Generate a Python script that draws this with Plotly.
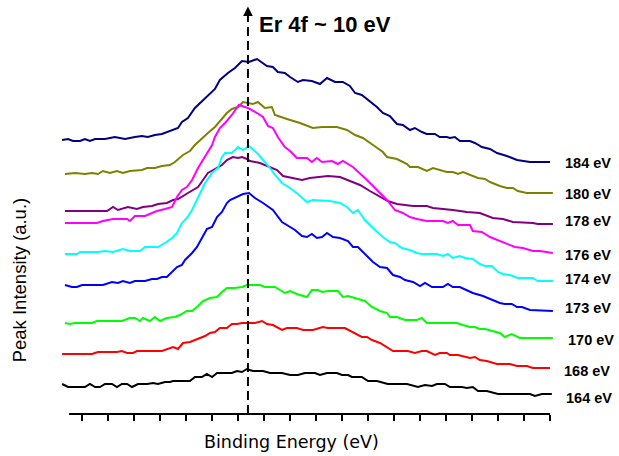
import plotly.graph_objects as go

# Binding energy (eV) and intensity (a.u.)
e_184 = [2.85,3.08,3.27,3.54,3.73,3.92,4.12,4.50,4.88,5.27,5.65,5.92,6.15,6.42,6.69,6.92,7.12,7.31,7.46,7.69,7.96,8.35,8.73,8.92,9.23,9.50,9.77,10.04,10.35,10.73,10.96,11.15,11.42,11.62,11.92,12.12,12.46,12.77,13.04,13.35,13.65,13.92,14.12,14.38,14.62,14.96,15.19,15.46,15.73,15.96,16.23,16.42,16.69,16.88,17.19,17.38,17.65,17.77,17.96,18.15,18.54,18.73,19.00,19.31,19.58,19.96,20.35,20.73,20.85,21.62]
i_184 = [27.4,27.5,27.3,27.3,27.5,27.3,27.5,27.5,27.7,27.5,27.7,27.8,27.7,27.9,28.0,28.2,28.4,28.6,29.2,29.6,30.6,31.6,32.5,33.4,34.1,34.6,35.3,35.2,35.5,34.8,34.7,34.2,34.1,33.7,33.2,33.4,33.3,33.0,33.6,33.2,33.2,32.8,32.1,31.9,31.4,30.7,30.1,29.8,29.0,28.9,28.4,28.6,28.2,28.0,28.0,27.7,27.7,27.6,27.7,27.3,27.3,27.1,26.7,26.5,26.1,25.8,25.4,25.3,25.2,25.2]

e_180 = [2.96,3.35,3.73,4.00,4.23,4.42,4.69,4.96,5.19,5.46,5.92,6.12,6.42,6.69,7.00,7.19,7.50,7.77,7.96,8.23,8.46,8.73,8.92,9.19,9.38,9.62,9.81,10.19,10.38,10.65,10.92,11.04,11.50,12.00,12.50,12.85,13.42,13.81,14.12,14.42,14.81,15.19,15.35,15.73,16.12,16.23,16.54,16.88,17.12,17.38,17.65,17.88,18.08,18.27,18.54,18.85,19.12,19.31,19.69,19.96,20.19,20.38,20.73,21.73]
i_180 = [24.0,24.1,24.0,24.1,24.0,24.3,24.1,24.3,24.1,24.3,24.4,24.6,24.6,24.8,24.9,25.2,25.9,26.3,26.9,27.6,28.1,28.7,29.3,30.1,30.5,30.7,31.2,31.0,31.2,30.6,30.7,29.9,29.5,29.1,28.6,28.7,28.7,28.4,27.9,27.6,26.9,26.2,25.7,25.5,25.0,24.7,24.7,24.3,24.6,24.4,24.2,24.2,24.0,24.2,23.9,23.6,23.5,23.2,22.8,22.6,22.6,22.3,22.1,22.1]

e_178 = [2.96,4.58,4.81,5.00,5.38,5.73,5.96,6.31,6.54,6.88,7.12,7.31,7.69,8.08,8.27,8.46,8.73,9.00,9.19,9.42,9.62,9.77,9.96,10.08,10.46,10.77,11.12,11.35,11.73,12.08,12.38,12.77,13.08,13.54,13.92,14.31,14.69,15.08,15.38,15.73,16.35,16.88,17.12,17.88,18.42,18.92,19.19,19.42,19.81,20.19,20.96,21.15,21.73]
i_178 = [20.3,20.3,20.7,20.4,20.7,20.5,20.7,20.8,21.0,21.1,21.4,21.5,22.1,22.7,23.4,24.1,24.5,24.9,25.4,25.7,25.6,25.7,25.5,25.3,25.1,24.8,24.4,23.8,23.6,23.4,23.6,23.7,23.8,23.7,23.3,22.9,22.3,21.7,21.3,21.0,20.8,20.8,20.6,20.4,20.2,20.1,19.8,19.6,19.5,19.2,19.1,19.0,19.0]

e_176 = [2.96,4.19,4.42,4.81,5.35,5.46,5.65,6.04,6.31,6.50,6.81,7.08,7.27,7.46,7.65,7.85,8.08,8.35,8.62,8.73,8.92,9.12,9.38,9.65,10.00,10.35,10.58,10.77,10.96,11.15,11.42,11.62,11.88,12.27,12.46,12.65,12.85,13.23,13.46,13.65,14.04,14.58,15.08,15.35,15.65,15.96,16.23,16.50,16.88,17.50,17.69,17.88,18.08,18.54,18.65,19.00,19.31,19.69,19.96,20.27,20.58,20.96,21.23,21.73]
i_176 = [19.1,19.1,19.3,19.5,19.5,19.3,19.8,19.8,20.1,20.3,20.5,20.7,21.7,22.4,22.7,23.4,24.6,25.7,26.9,27.7,28.6,29.1,29.9,30.9,30.6,30.1,29.7,28.8,28.6,27.7,26.7,26.3,25.6,25.6,25.2,25.6,25.2,25.3,25.0,25.3,24.7,23.4,22.1,21.4,20.4,20.1,19.7,19.5,19.3,19.3,19.1,19.3,18.9,18.9,18.3,18.2,17.7,17.3,17.0,16.7,16.6,16.3,16.3,16.1]

e_174 = [2.96,3.42,3.54,4.23,4.50,4.81,5.19,5.46,5.85,6.04,6.54,6.81,7.08,7.27,7.46,7.65,7.85,8.08,8.35,8.62,8.85,9.00,9.12,9.38,9.62,9.81,10.04,10.35,10.58,10.85,11.04,11.31,11.62,11.92,12.27,12.50,13.15,13.54,13.81,14.04,14.23,14.50,14.81,15.19,15.46,15.65,15.92,16.23,16.50,16.69,17.27,17.50,17.69,17.88,18.15,18.35,18.65,18.92,19.12,19.38,19.62,19.81,20.08,20.38,20.96,21.15,21.73]
i_174 = [16.0,16.0,16.2,16.2,16.3,16.2,16.5,16.3,16.3,16.7,16.7,17.1,17.6,18.1,19.1,19.6,20.4,21.6,23.1,24.1,24.6,25.7,26.1,26.1,26.7,26.4,26.8,26.1,25.4,24.6,23.9,23.1,22.6,22.0,21.2,21.4,21.3,21.1,20.7,20.1,20.4,19.4,18.6,17.7,17.2,17.1,16.6,16.4,16.1,16.0,16.0,15.8,16.0,15.6,15.8,15.6,15.5,15.0,14.8,14.8,14.2,14.0,13.9,13.6,13.6,13.3,13.3]

e_173 = [2.96,3.23,3.42,3.62,4.42,4.77,5.00,5.19,5.46,5.65,6.04,6.31,6.50,6.69,6.88,7.08,7.27,7.46,7.58,7.85,8.04,8.23,8.42,8.62,8.81,9.00,9.19,9.31,9.58,9.81,10.04,10.27,10.58,10.85,10.96,11.31,11.62,11.81,12.08,12.27,12.46,12.65,12.85,13.04,13.27,13.54,13.85,14.04,14.23,14.42,14.62,14.81,15.08,15.35,15.58,15.85,16.04,16.35,16.62,16.81,17.08,17.50,17.69,17.88,18.15,18.42,18.65,19.04,19.31,19.69,19.88,20.15,20.35,20.54,20.85,21.73]
i_173 = [12.9,12.7,12.7,12.9,12.9,13.2,13.1,13.3,13.1,13.3,13.3,13.5,13.5,13.7,13.7,14.2,14.7,14.9,15.4,16.1,16.7,17.6,18.5,18.7,19.7,20.2,21.1,21.4,21.7,22.0,22.1,21.6,21.1,20.6,20.4,19.2,18.7,18.4,17.8,17.7,18.0,17.6,17.7,18.1,17.7,17.6,17.3,16.7,16.7,16.2,15.7,15.2,14.7,14.6,13.9,13.7,13.4,13.2,12.8,13.1,12.7,12.7,13.0,12.7,12.7,12.4,12.1,11.8,11.5,11.1,11.0,11.0,10.7,10.7,10.4,10.3]

e_170 = [2.96,3.15,3.35,4.00,4.19,5.15,5.46,5.65,5.85,5.96,6.23,6.42,6.62,6.88,7.19,7.38,7.65,7.85,8.08,8.27,8.54,8.81,9.00,9.19,9.50,9.77,9.96,10.46,10.65,11.04,11.42,11.62,11.88,12.27,12.46,12.69,12.85,13.08,13.46,13.65,13.85,14.12,14.50,14.77,15.08,15.35,15.46,15.73,16.04,16.50,16.69,16.88,18.04,18.27,18.54,18.73,18.92,19.12,19.38,19.69,19.88,20.15,20.46,21.73]
i_170 = [9.1,9.0,9.1,9.1,9.3,9.3,9.6,9.6,9.3,9.6,9.3,9.7,9.3,9.6,9.7,9.9,10.3,10.3,10.8,11.3,11.6,11.7,12.2,12.6,12.6,12.7,12.9,12.9,12.7,12.7,12.1,12.3,12.0,11.7,12.4,12.4,12.2,12.3,12.3,11.7,11.8,11.6,11.3,10.7,10.3,10.1,9.7,9.7,9.4,9.4,9.6,9.1,9.1,8.9,8.7,8.7,8.5,8.5,8.3,8.1,7.7,8.0,7.6,7.6]

e_168 = [2.85,4.00,4.23,4.96,5.15,5.35,5.58,5.73,6.69,6.88,7.12,7.31,7.50,7.77,8.08,8.35,8.54,8.73,8.92,9.19,9.38,9.58,9.77,10.27,10.54,10.73,10.96,11.31,11.50,11.88,12.12,12.50,12.88,13.08,13.73,14.04,14.38,14.58,14.77,15.08,15.35,15.58,16.15,16.42,16.69,16.88,17.19,17.38,17.65,17.77,18.08,18.42,18.54,18.73,18.92,19.19,19.58,20.08,20.35,20.73,20.96,21.62]
i_168 = [6.0,6.0,6.2,6.2,6.3,6.1,6.1,6.3,6.3,6.5,6.7,6.5,7.1,7.2,7.5,7.8,8.1,8.2,8.6,8.6,9.0,9.0,9.1,9.1,9.3,9.0,8.9,8.4,8.6,8.6,8.4,8.4,8.7,8.6,8.6,8.2,7.7,7.7,7.4,7.1,6.7,6.3,6.3,6.1,6.3,6.3,5.9,6.1,6.1,5.9,5.9,5.7,5.6,5.7,5.4,5.3,5.0,5.0,4.8,4.8,4.6,4.6]

e_164 = [2.85,3.08,3.73,3.92,4.12,4.31,4.50,4.77,4.96,5.15,5.35,5.54,5.77,6.12,6.35,6.54,6.81,7.00,7.12,7.77,7.96,8.23,8.42,8.62,8.81,9.38,9.58,9.77,9.96,10.19,10.58,10.85,11.31,11.62,11.92,12.19,12.58,12.77,13.04,13.42,13.62,13.85,14.00,14.38,14.62,14.96,15.38,16.12,16.54,16.81,17.08,17.27,17.58,17.77,18.23,18.42,18.65,18.85,19.19,19.62,20.85,21.04,21.31,21.69]
i_164 = [3.0,2.7,2.7,3.0,2.7,2.7,3.0,3.0,2.7,3.0,3.0,2.7,3.0,3.0,3.1,3.0,3.2,3.2,3.3,3.3,3.7,3.7,4.0,3.7,4.1,4.1,4.3,4.2,4.5,4.3,4.3,4.1,4.1,3.9,3.9,4.1,4.1,3.9,4.1,4.1,3.9,3.9,3.7,3.7,3.3,3.3,3.0,3.0,2.7,2.9,2.8,3.0,3.0,2.7,2.7,2.6,2.7,2.3,2.3,2.0,2.0,1.8,2.0,2.0]

series_labels = ["184 eV", "180 eV", "178 eV", "176 eV", "174 eV", "173 eV", "170 eV", "168 eV", "164 eV"]
series_colors = ["#000080", "#808000", "#800080", "#FF00FF", "#00FFFF", "#0000FF", "#00FF00", "#FF0000", "#000000"]
series_x = [e_184, e_180, e_178, e_176, e_174, e_173, e_170, e_168, e_164]
series_y = [i_184, i_180, i_178, i_176, i_174, i_173, i_170, i_168, i_164]
label_y = [25.1, 22.0, 19.3, 15.9, 13.5, 10.6, 7.4, 4.3, 1.6]
label_shift = [0, 0, 0, 0, 0, 0, 3, -1, 1]

er4f_energy = 10.0
axis_start, axis_end = 3.12, 21.62
x_range = [2.77, 21.85]
y_range = [0, 41.4]

FONT = "Arial, 'Liberation Sans', sans-serif"

fig = go.Figure()
for xs, ys, c, name in zip(series_x, series_y, series_colors, series_labels):
    fig.add_trace(go.Scatter(x=xs, y=ys, mode="lines", name=name,
                             line=dict(color=c, width=2), showlegend=False))

# dashed marker line at Er 4f position
fig.add_trace(go.Scatter(x=[er4f_energy, er4f_energy], y=[0, 40.3], mode="lines",
                         line=dict(color="black", width=2, dash="9px,5px"),
                         showlegend=False, hoverinfo="skip"))

annotations = []
annotations.append(dict(x=er4f_energy, y=40.75, xref="x", yref="y", showarrow=True,
                        ax=0, ay=9, arrowhead=2, arrowsize=1.2, arrowwidth=1.6,
                        arrowcolor="black", text=""))
annotations.append(dict(x=10.36, y=39.0, xref="x", yref="y", text="<b>Er 4f ~ 10 eV</b>",
                        showarrow=False, xanchor="left", yanchor="middle",
                        font=dict(family=FONT, size=22, color="black")))
for lab, ly, sh in zip(series_labels, label_y, label_shift):
    annotations.append(dict(x=1.014, y=ly, xref="paper", yref="y", text="<b>%s</b>" % lab,
                            showarrow=False, xanchor="left", yanchor="middle", xshift=sh,
                            font=dict(family=FONT, size=14.5, color="black")))
annotations.append(dict(x=11.69, y=0, xref="x", yref="paper", yshift=-28,
                        text="Binding Energy (eV)", showarrow=False,
                        xanchor="center", yanchor="middle",
                        font=dict(family="'DejaVu Sans', sans-serif", size=17.5, color="black")))
annotations.append(dict(x=-0.082, y=13.4, xref="paper", yref="y", textangle=-90,
                        text="Peak Intensity (a.u.)", showarrow=False,
                        xanchor="center", yanchor="middle",
                        font=dict(family=FONT, size=18.5, color="black")))

fig.add_shape(type="line", xref="x", yref="paper", x0=axis_start, x1=axis_end, y0=0, y1=0,
              line=dict(color="black", width=2))

fig.update_layout(
    width=619, height=456,
    margin=dict(l=60, r=63, t=0, b=42),
    paper_bgcolor="white", plot_bgcolor="white",
    annotations=annotations,
    xaxis=dict(range=x_range, showgrid=False, zeroline=False, showline=False,
               ticks="outside", ticklen=6, tickwidth=2, tickcolor="black",
               tick0=3.615, dtick=1, showticklabels=False),
    yaxis=dict(range=y_range, visible=False, showgrid=False, zeroline=False),
)

fig.write_html("out.html")
